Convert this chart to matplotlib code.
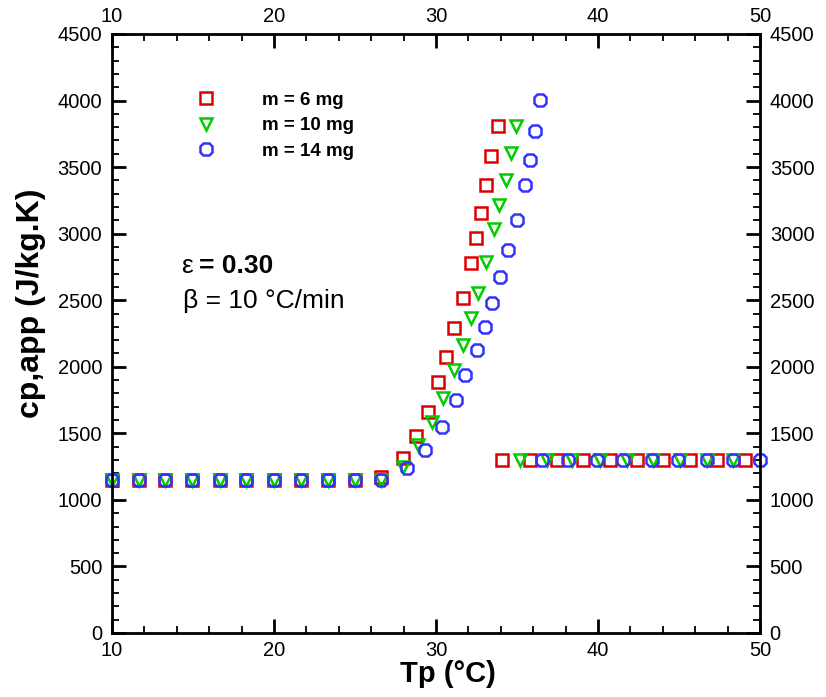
import numpy as np
import matplotlib
matplotlib.use("Agg")
import matplotlib.pyplot as plt
from matplotlib.ticker import MultipleLocator
from matplotlib.lines import Line2D

# apparent heat capacity vs. plate temperature, three sample masses
plateau_T = [10.0, 11.65, 13.3, 14.95, 16.65, 18.3, 20.0, 21.65, 23.35, 25.0, 26.6]
plateau_cp = [1150] * len(plateau_T)

t_6mg = plateau_T + [27.96, 28.77, 29.49, 30.10, 30.62, 31.13, 31.65, 32.16, 32.47,
                     32.78, 33.09, 33.40, 33.81,
                     34.06, 35.80, 37.45, 39.09, 40.74, 42.38, 44.03, 45.68, 47.33, 49.07]
cp_6mg = plateau_cp[:-1] + [1170] + [1314, 1479, 1657, 1882, 2074, 2292, 2517, 2776, 2971,
                                     3158, 3363, 3581, 3811,
                                     1300, 1300, 1300, 1300, 1300, 1300, 1300, 1300, 1300, 1300]

t_10mg = plateau_T + [27.98, 28.91, 29.73, 30.41, 31.13, 31.65, 32.16, 32.57, 33.09,
                      33.60, 33.91, 34.32, 34.63, 34.94,
                      35.19, 36.83, 38.40, 40.10, 41.77, 43.41, 45.06, 46.71, 48.35]
cp_10mg = plateau_cp + [1248, 1411, 1586, 1762, 1974, 2162, 2363, 2555, 2788,
                        3038, 3213, 3401, 3606, 3806,
                        1300, 1300, 1300, 1300, 1300, 1300, 1300, 1300, 1300]

t_14mg = plateau_T + [28.19, 29.32, 30.35, 31.23, 31.79, 32.51, 33.02, 33.44, 33.95,
                      34.46, 34.98, 35.49, 35.80, 36.11, 36.42,
                      36.52, 38.17, 39.92, 41.56, 43.31, 44.96, 46.71, 48.35, 50.0]
cp_14mg = plateau_cp + [1236, 1374, 1549, 1754, 1937, 2125, 2300, 2480, 2675,
                        2881, 3106, 3363, 3556, 3771, 4002,
                        1300, 1300, 1300, 1300, 1300, 1300, 1300, 1300, 1300]

series_labels = ["m = 6 mg", "m = 10 mg", "m = 14 mg"]
series_colors = ["#DD0000", "#00CC00", "#3333FF"]
series_markers = ["s", "v", "8"]
series_sizes = [8, 9, 9.5]

plt.rcParams["font.family"] = ["Liberation Sans", "DejaVu Sans"]

fig = plt.figure(figsize=(8.26, 6.97), dpi=100)
ax = fig.add_axes([112 / 826, 64 / 697, 648 / 826, 599 / 697])

data = [(t_6mg, cp_6mg), (t_10mg, cp_10mg), (t_14mg, cp_14mg)]
handles = []
for (t, cp), lab, col, mk, ms in zip(data, series_labels, series_colors,
                                     series_markers, series_sizes):
    ax.plot(t, cp, linestyle="none", marker=mk, markersize=ms, markerfacecolor="none",
            markeredgecolor=col, markeredgewidth=1.8, clip_on=False)
    handles.append(Line2D([], [], linestyle="none", marker=mk, markersize=ms,
                          markerfacecolor="none", markeredgecolor=col,
                          markeredgewidth=1.8, label=lab))

ax.set_xlim(10, 50)
ax.set_ylim(0, 4500)
ax.xaxis.set_major_locator(MultipleLocator(10))
ax.xaxis.set_minor_locator(MultipleLocator(2))
ax.yaxis.set_major_locator(MultipleLocator(500))
ax.yaxis.set_minor_locator(MultipleLocator(100))

for sp in ax.spines.values():
    sp.set_linewidth(2.0)

ax.tick_params(which="both", direction="in", top=True, right=True,
               labeltop=True, labelright=True)
ax.tick_params(which="major", length=10, width=2.0, labelsize=14.5)
ax.tick_params(which="minor", length=5, width=1.3)
ax.tick_params(axis="x", which="major", pad=6)
ax.tick_params(axis="y", which="major", pad=7)

ax.set_xlabel("Tp (°C)", fontsize=21, fontweight="bold")
ax.set_ylabel("cp,app (J/kg.K)", fontsize=23, fontweight="bold")
ax.xaxis.set_label_coords(0.519, -0.045)
ax.yaxis.set_label_coords(-0.102, 0.55)

leg = ax.legend(handles=handles, loc="upper left", bbox_to_anchor=(0.130, 0.904),
                frameon=False, borderpad=0, borderaxespad=0, handlelength=1.0,
                handletextpad=2.5, labelspacing=0.45,
                prop={"weight": "bold", "size": 13.5})

ax.text(0.107, 0.601, "ε", transform=ax.transAxes, fontsize=19, va="baseline")
ax.text(0.135, 0.601, "= 0.30", transform=ax.transAxes, fontsize=19,
        fontweight="bold", va="baseline")
ax.text(0.110, 0.5426, "β = 10 °C/min", transform=ax.transAxes, fontsize=19,
        va="baseline")

fig.savefig("out.png", dpi=100)
